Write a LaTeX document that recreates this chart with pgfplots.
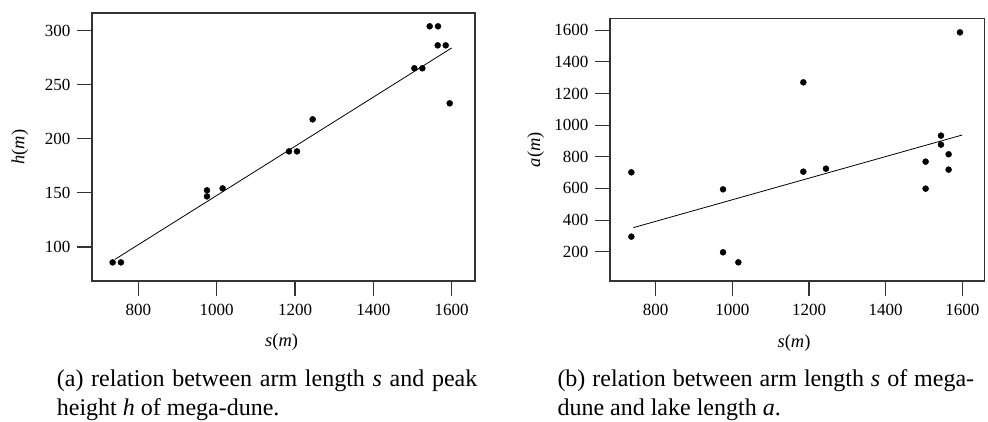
\documentclass[border=0pt]{standalone}
\usepackage{fontspec}
\setmainfont{Liberation Serif}
\usepackage{pgfplots}
\pgfplotsset{compat=1.18}
\pgfplotsset{
  dune/.style={
    scale only axis,
    anchor=south west,
    axis line style={line width=1.1pt, black!80},
    every tick/.style={line width=1.1pt, black!80},
    tick align=outside,
    xtick pos=lower, ytick pos=left,
    major tick length=15pt,
    /pgf/number format/assume math mode=true,
    /pgf/number format/set thousands separator={},
    tick label style={font=\fontsize{17}{19}\selectfont},
    xticklabel style={yshift=-5pt},
    yticklabel style={xshift=-3pt},
    label style={font=\fontsize{18.5}{20}\selectfont},
    clip=false,
  }
}
\begin{document}
\begin{tikzpicture}
\useasboundingbox (0,0) rectangle (988pt,421pt);
% (a)
\begin{axis}[dune,
  at={(92pt,140pt)}, width=383pt, height=268pt,
  xmin=681.8, xmax=1659.5, ymin=68.6, ymax=316.3,
  xtick={800,1000,1200,1400,1600},
  ytick={100,150,200,250,300},
  xlabel={\textit{s}(\textit{m})},
  ylabel={\textit{h}(\textit{m})},
  xlabel style={at={(axis description cs:0.495,-0.2265)}, anchor=center},
  ylabel style={at={(axis description cs:-0.188,0.5)}, anchor=center, rotate=0},
]
\addplot[only marks, mark=*, mark size=3pt, black] coordinates {
(734.5,85.8) (755.7,85.8) (975.3,152.4) (975.3,146.8) (1015.3,154.2)
(1184.7,188.4) (1205.1,188.4) (1245.1,218.0) (1504.7,265.2) (1525.1,265.2)
(1543.8,304.0) (1565.1,304.0) (1564.3,286.4) (1584.7,286.4) (1594.9,232.8)
};
\addplot[black, line width=0.8pt] coordinates {(740.4,88.6) (1600,284.0)};
\end{axis}
% (b)
\begin{axis}[dune,
  at={(610pt,140pt)}, width=374.3pt, height=262.7pt,
  xmin=680.8, xmax=1657.4, ymin=14.5, ymax=1676,
  xtick={800,1000,1200,1400,1600},
  ytick={200,400,600,800,1000,1200,1400,1600},
  xlabel={\textit{s}(\textit{m})},
  ylabel={\textit{a}(\textit{m})},
  xlabel style={at={(axis description cs:0.4916,-0.237)}, anchor=center},
  ylabel style={at={(axis description cs:-0.1985,0.5)}, anchor=center, rotate=0},
]
\addplot[only marks, mark=*, mark size=3pt, black] coordinates {
(736.5,701.8) (736.5,295) (975.7,594.3) (975.7,196) (1015.7,132.6)
(1185.2,1271) (1185.2,706) (1244.3,725) (1504.3,769.3) (1504.3,598.5)
(1544.3,934) (1544.3,877) (1564.3,816) (1564.3,719) (1593.9,1587)
};
\addplot[black, line width=0.8pt] coordinates {(741.7,352) (1600,938)};
\end{axis}
% captions
\begin{scope}[every node/.style={font=\fontsize{24}{28}\selectfont, inner sep=0pt, anchor=base west}]
\node at (56.7pt,34.3pt) {\makebox[420.5pt][s]{(a) relation between arm length \textit{s} and peak}};
\node at (56.7pt,6pt) {height \textit{h} of mega-dune.};
\node at (557.3pt,34.3pt) {\makebox[416.7pt][s]{(b) relation between arm length \textit{s} of mega-}};
\node at (557.3pt,6pt) {dune and lake length \textit{a}.};
\end{scope}
\end{tikzpicture}
\end{document}
